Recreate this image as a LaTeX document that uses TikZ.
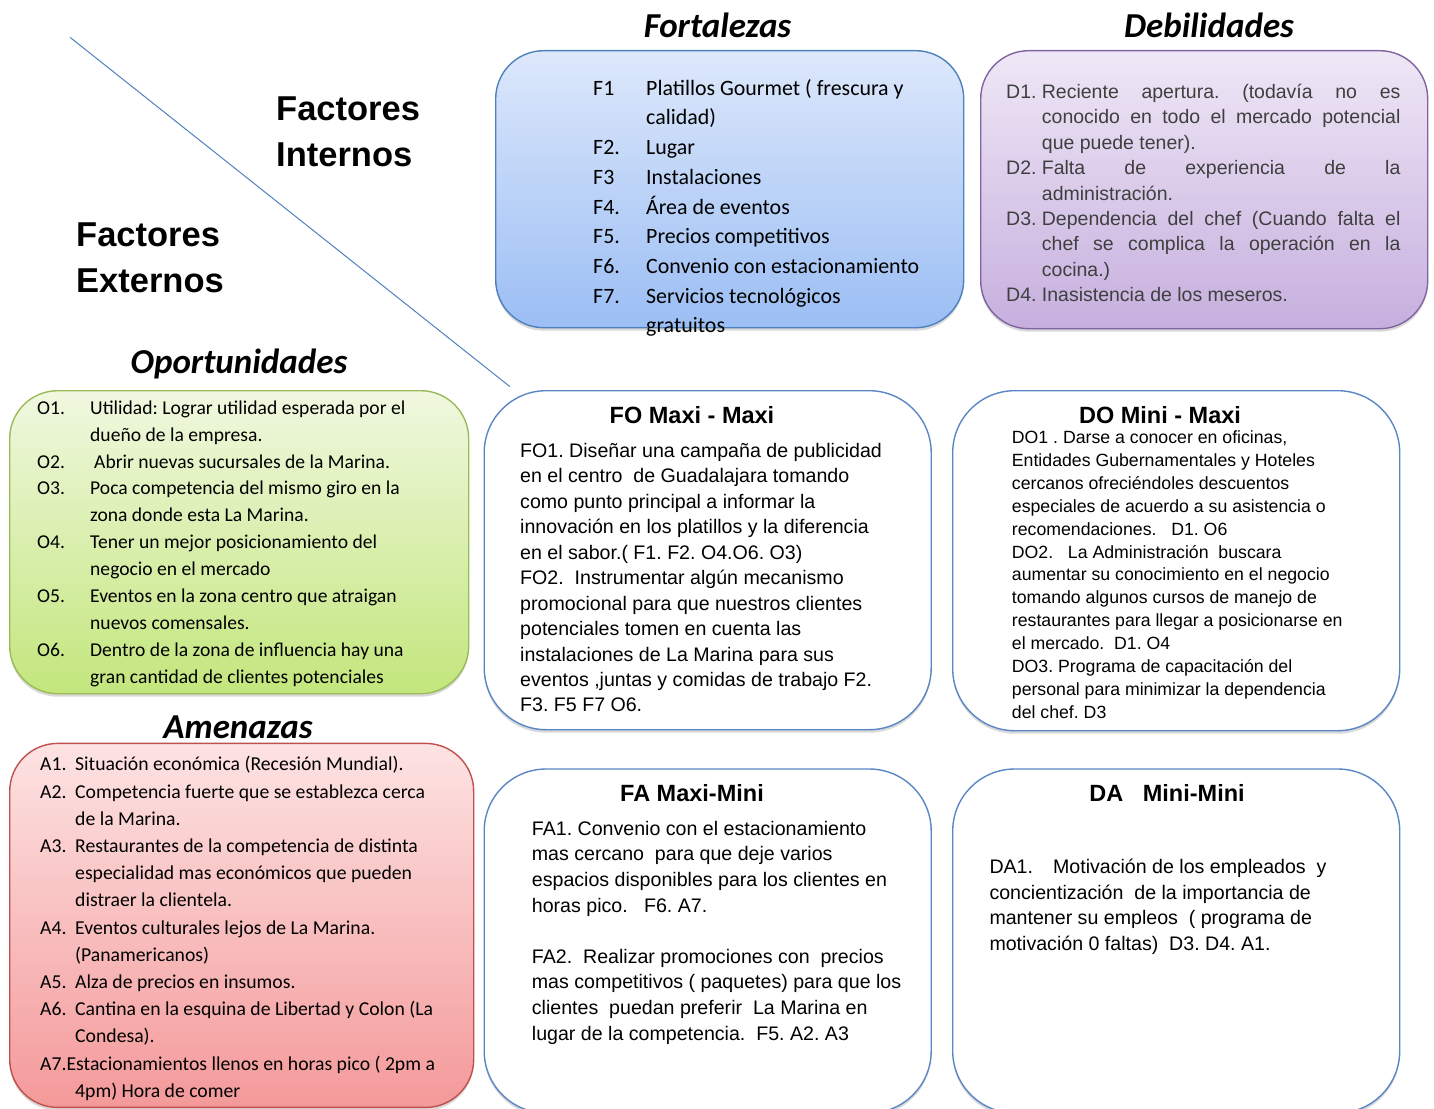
\documentclass[tikz,border=0pt]{standalone}
\usepackage{fontspec}
\setmainfont{Carlito}
\newfontfamily\arialf{Liberation Sans}
\usetikzlibrary{shadows}
\frenchspacing
\definecolor{fbTop}{HTML}{DDE8FB}
\definecolor{fbBot}{HTML}{9BBEF4}
\definecolor{fbLine}{HTML}{4F81BD}
\definecolor{dbTop}{HTML}{EFE7F6}
\definecolor{dbBot}{HTML}{C6AFDE}
\definecolor{dbLine}{HTML}{8064A2}
\definecolor{opTop}{HTML}{F0F8E0}
\definecolor{opBot}{HTML}{C3E67C}
\definecolor{opLine}{HTML}{9BBB59}
\definecolor{amTop}{HTML}{FDE3E3}
\definecolor{amBot}{HTML}{F4999A}
\definecolor{amLine}{HTML}{C0504D}
\definecolor{wbLine}{HTML}{5A86C5}
\definecolor{dgray}{HTML}{3F3F3F}
\newcommand\itm[2]{\makebox[#1][l]{#2}}
\newcommand\jst[1]{\makebox[358.5pt][s]{#1}}
\newcommand\fstr{\rule{0pt}{25pt}}
\tikzset{
  boxbase/.style={anchor=north west, inner sep=0pt, line width=1.4pt,
    drop shadow={shadow xshift=0pt, shadow yshift=-3pt, opacity=0.3}},
  colbox/.style={boxbase, rounded corners=48pt, draw=#1Line, top color=#1Top, bottom color=#1Bot},
  whitebox/.style={boxbase, rounded corners=62pt, draw=wbLine, fill=white},
  bodytext/.style={anchor=north west, inner sep=0pt, align=left},
  sectitle/.style={anchor=base, inner sep=0pt, font=\fontsize{35}{40}\selectfont\bfseries\itshape},
  quadtitle/.style={anchor=base, inner sep=0pt, font=\arialf\fontsize{23.5}{28}\selectfont\bfseries},
  factor/.style={anchor=north west, inner sep=0pt, align=left, font=\arialf\fontsize{34.5}{46}\selectfont\bfseries},
}
\begin{document}
\begin{tikzpicture}[x=1pt,y=-1pt]
\useasboundingbox (0,0) rectangle (1434,1108);

% diagonal
\coordinate (d1) at (70,37.3);
\coordinate (d2) at (510,386.7);
\draw[fbLine, line width=1pt] (d1) -- (d2);

% factor labels
\node[factor] (fint) at (276,{120.7-35}) {\rule{0pt}{35pt}Factores\\Internos};
\node[factor] (fext) at (76,{246.7-35}) {\rule{0pt}{35pt}Factores\\Externos};

% section titles
\node[sectitle] (tF) at (717.5,37.3) {Fortalezas};
\node[sectitle] (tD) at (1209,37.3) {Debilidades};
\node[sectitle] (tO) at (239,373.3) {Oportunidades};
\node[sectitle] (tA) at (238,738.3) {Amenazas};

% boxes
\node[colbox=fb, minimum width=468pt, minimum height=277pt] (bF) at (495,50) {};
\node[colbox=db, minimum width=447pt, minimum height=278pt] (bD) at (980,50) {};
\node[colbox=op, minimum width=459pt, minimum height=303pt] (bO) at (9,390) {};
\node[colbox=am, minimum width=464pt, minimum height=364pt] (bA) at (9,742.7) {};
\node[whitebox, minimum width=447pt, minimum height=339pt] (bFO) at (483.5,390) {};
\node[whitebox, minimum width=447pt, minimum height=340pt] (bDO) at (952,390) {};
\node[whitebox, minimum width=447pt, minimum height=344pt] (bFA) at (483.5,768.3) {};
\node[whitebox, minimum width=447pt, minimum height=344pt] (bDA) at (952,768.3) {};

% Fortalezas text
\node[bodytext, font=\fontsize{21.9}{29.7}\selectfont] (xF) at (593,{95-25}) {%
\fstr\itm{53pt}{F1}Platillos Gourmet ( frescura y\\
\hspace*{53pt}calidad)\\
\itm{53pt}{F2.}Lugar\\
\itm{53pt}{F3}Instalaciones\\
\itm{53pt}{F4.}Área de eventos\\
\itm{53pt}{F5.}Precios competitivos\\
\itm{53pt}{F6.}Convenio con estacionamiento\\
\itm{53pt}{F7.}Servicios tecnológicos\\
\hspace*{53pt}gratuitos};

% Debilidades text
\node[bodytext, text=dgray, font=\arialf\fontsize{19.5}{25.4}\selectfont] (xD) at (1006,{98.3-25}) {%
\fstr\itm{35.7pt}{D1.}\jst{Reciente apertura. (todavía no es}\\
\hspace*{35.7pt}\jst{conocido en todo el mercado potencial}\\
\hspace*{35.7pt}que puede tener).\\
\itm{35.7pt}{D2.}\jst{Falta de experiencia de la}\\
\hspace*{35.7pt}administración.\\
\itm{35.7pt}{D3.}\jst{Dependencia del chef (Cuando falta el}\\
\hspace*{35.7pt}\jst{chef se complica la operación en la}\\
\hspace*{35.7pt}cocina.)\\
\itm{35.7pt}{D4.}Inasistencia de los meseros.};

% Oportunidades text
\node[bodytext, font=\fontsize{19.6}{26.9}\selectfont] (xO) at (37,{414-25}) {%
\fstr\itm{53pt}{O1.}Utilidad: Lograr utilidad esperada por el\\
\hspace*{53pt}dueño de la empresa.\\
\itm{53pt}{O2.}\hspace*{4pt}Abrir nuevas sucursales de la Marina.\\
\itm{53pt}{O3.}Poca competencia del mismo giro en la\\
\hspace*{53pt}zona donde esta La Marina.\\
\itm{53pt}{O4.}Tener un mejor posicionamiento del\\
\hspace*{53pt}negocio en el mercado\\
\itm{53pt}{O5.}Eventos en la zona centro que atraigan\\
\hspace*{53pt}nuevos comensales.\\
\itm{53pt}{O6.}Dentro de la zona de influencia hay una\\
\hspace*{53pt}gran cantidad de clientes potenciales};

% Amenazas text
\node[bodytext, font=\fontsize{19.7}{27.2}\selectfont] (xA) at (40,{770.7-25}) {%
\fstr\itm{35pt}{A1.}Situación económica (Recesión Mundial).\\
\itm{35pt}{A2.}Competencia fuerte que se establezca cerca\\
\hspace*{35pt}de la Marina.\\
\itm{35pt}{A3.}Restaurantes de la competencia de distinta\\
\hspace*{35pt}especialidad mas económicos que pueden\\
\hspace*{35pt}distraer la clientela.\\
\itm{35pt}{A4.}Eventos culturales lejos de La Marina.\\
\hspace*{35pt}(Panamericanos)\\
\itm{35pt}{A5.}Alza de precios en insumos.\\
\itm{35pt}{A6.}Cantina en la esquina de Libertad y Colon (La\\
\hspace*{35pt}Condesa).\\
A7.Estacionamientos llenos en horas pico ( 2pm a\\
\hspace*{35pt}4pm) Hora de comer};

% quadrant titles
\node[quadtitle] (tFO) at (692,423.3) {FO Maxi - Maxi};
\node[quadtitle] (tDO) at (1160,423.3) {DO Mini - Maxi};
\node[quadtitle] (tFA) at (692,801.7) {FA Maxi-Mini};
\node[quadtitle] (tDA) at (1167,801.7) {DA\ \ \ Mini-Mini};

% FO text
\node[bodytext, font=\arialf\fontsize{19.6}{25.44}\selectfont] (xFO) at (520,{457.3-25}) {%
\fstr FO1. Diseñar una campaña de publicidad\\
en el centro~ de Guadalajara tomando\\
como punto principal a informar la\\
innovación en los platillos y la diferencia\\
en el sabor.( F1. F2. O4.O6. O3)\\
FO2.~ Instrumentar algún mecanismo\\
promocional para que nuestros clientes\\
potenciales tomen en cuenta las\\
instalaciones de La Marina para sus\\
eventos ,juntas y comidas de trabajo F2.\\
F3. F5 F7 O6.};

% DO text
\node[bodytext, font=\arialf\fontsize{17.7}{22.9}\selectfont] (xDO) at (1011.7,{443.3-25}) {%
\fstr DO1 . Darse a conocer en oficinas,\\
Entidades Gubernamentales y Hoteles\\
cercanos ofreciéndoles descuentos\\
especiales de acuerdo a su asistencia o\\
recomendaciones.~~ D1. O6\\
DO2.~~ La Administración~ buscara\\
aumentar su conocimiento en el negocio\\
tomando algunos cursos de manejo de\\
restaurantes para llegar a posicionarse en\\
el mercado.~ D1. O4\\
DO3. Programa de capacitación del\\
personal para minimizar la dependencia\\
del chef. D3};

% FA text
\node[bodytext, font=\arialf\fontsize{19.6}{25.6}\selectfont] (xFA) at (531.7,{835-25}) {%
\fstr FA1. Convenio con el estacionamiento\\
mas cercano~ para que deje varios\\
espacios disponibles para los clientes en\\
horas pico.~~ F6. A7.\\[25.6pt]
FA2.~ Realizar promociones con~ precios\\
mas competitivos ( paquetes) para que los\\
clientes~ puedan preferir~ La Marina en\\
lugar de la competencia.~ F5. A2. A3};

% DA text
\node[bodytext, font=\arialf\fontsize{19.6}{25.6}\selectfont] (xDA) at (989.3,{873.3-25}) {%
\fstr DA1.\hspace*{20pt}Motivación de los empleados~ y\\
concientización~ de la importancia de\\
mantener su empleos~ ( programa de\\
motivación 0 faltas)~ D3. D4. A1.};
\end{tikzpicture}
\end{document}
